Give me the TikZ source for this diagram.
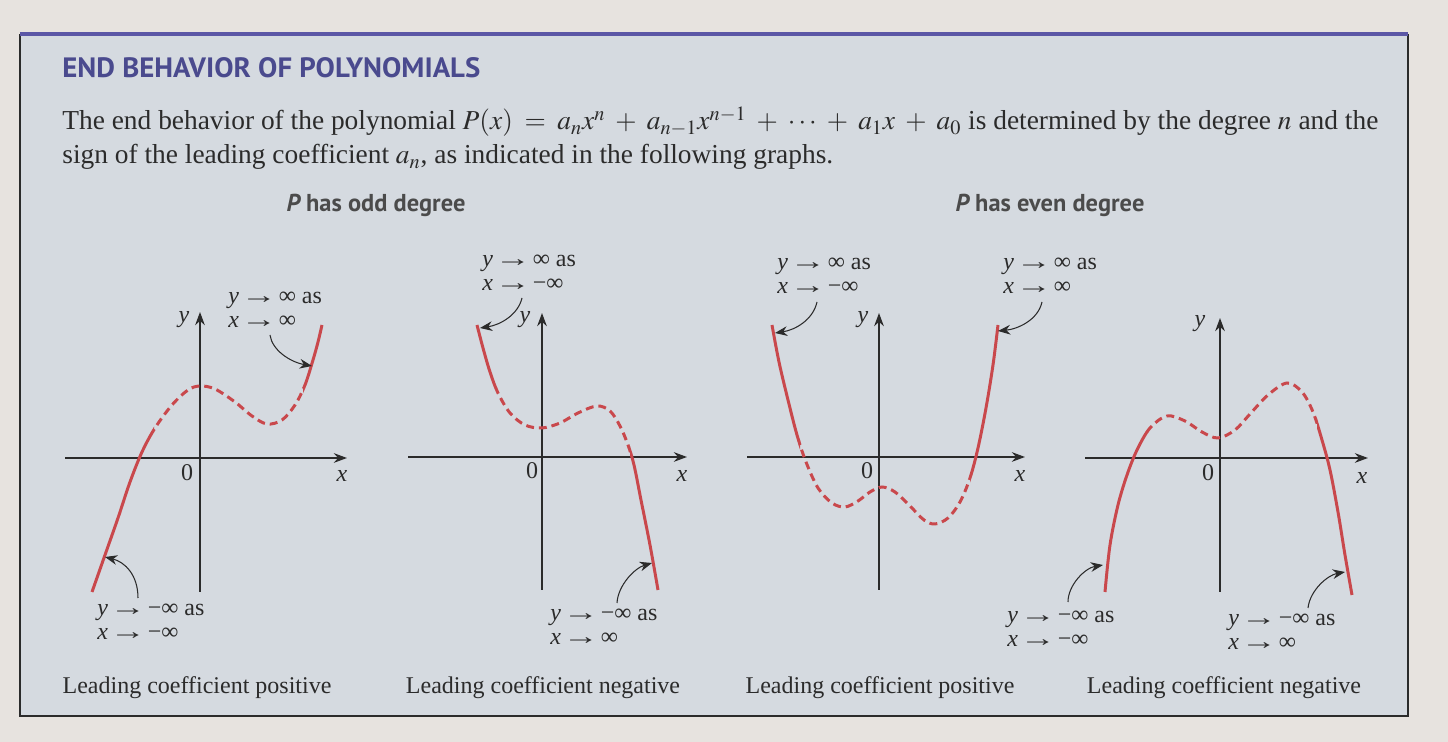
\documentclass[tikz,border=0pt]{standalone}
\usepackage{mathptmx}
\usepackage[no-math]{fontspec}
\usepackage{graphicx}
\setmainfont{Liberation Serif}
\newfontfamily\hdfont{PT Sans}
\usetikzlibrary{arrows.meta}
\definecolor{paper}{HTML}{E7E3DF}
\definecolor{boxbg}{HTML}{D5DAE0}
\definecolor{barblue}{HTML}{5B57A6}
\definecolor{headpurple}{HTML}{4A4A8E}
\definecolor{ink}{HTML}{2B2B2B}
\definecolor{curvered}{HTML}{C9484C}
\newcommand\twoline[2]{\begin{tabular}[t]{@{}l@{}}#1\\#2\end{tabular}}
\newcommand\vy{\textit{y}}
\newcommand\vx{\textit{x}}
\newcommand\arr{\hspace{0.08em}\scalebox{1.5}[1]{→}\hspace{0.08em}}
\tikzset{
  axisline/.style={ink, line width=0.9pt, -{Stealth[length=7.5pt,width=5.5pt]}},
  curvesolid/.style={curvered, line width=1.7pt},
  curvedash/.style={curvered, line width=1.7pt, dash pattern=on 4.5pt off 2.8pt},
  callout/.style={ink, line width=0.6pt, -{Stealth[length=7pt,width=5.5pt]}},
  lab/.style={font=\fontsize{13.66}{13.4}\selectfont, inner sep=0pt, anchor=base west, text=ink},
  capt/.style={font=\fontsize{13.66}{16}\selectfont, inner sep=0pt, anchor=base, text=ink},
  axlab/.style={font=\fontsize{13.66}{16}\selectfont, inner sep=0pt, anchor=center, text=ink},
  body/.style={font=\fontsize{15.6}{19}\selectfont, inner sep=0pt, anchor=base west, text=ink},
  subhead/.style={font=\hdfont\bfseries\fontsize{13.9}{16}\selectfont, inner sep=0pt, anchor=base, text=ink!85},
}
\def\curveA{plot[smooth,tension=0.55] coordinates {(92,592) (105,555) (118,518) (130,482) (142,452) (155,428) (172,405) (188,390) (200,386) (215,389) (235,402) (252,416) (267,424) (282,420) (295,405) (305,385) (313,360) (318,342) (322,325)}}
\def\curveB{plot[smooth,tension=0.55] coordinates {(477,325) (483,348) (490,372) (498,393) (510,413) (525,425) (542,428) (560,423) (578,413) (597,406) (610,411) (620,426) (628,445) (634,465) (641,500) (650,545) (658,590)}}
\def\curveC{plot[smooth,tension=0.55] coordinates {(772,325) (779,362) (788,400) (797,435) (806,462) (818,488) (832,503) (845,507) (858,501) (870,492) (882,487) (895,492) (910,506) (924,520) (935,524) (948,518) (960,502) (970,478) (978,448) (986,408) (993,365) (998,325)}}
\def\curveD{plot[smooth,tension=0.55] coordinates {(1105,592) (1110,545) (1118,505) (1127,475) (1137,450) (1150,428) (1167,416) (1185,421) (1202,432) (1218,438) (1235,430) (1250,414) (1268,395) (1287,383) (1302,392) (1313,412) (1322,440) (1330,470) (1338,512) (1345,555) (1352,595)}}
\begin{document}
\begin{tikzpicture}[x=0.02cm, y=-0.02cm]
\useasboundingbox (0,0) rectangle (1448,742);
\fill[paper] (0,0) rectangle (1448,742);
% box
\fill[boxbg] (20,34) rectangle (1408,716);
\draw[ink, line width=0.9pt] (20,34) -- (20,716) -- (1408,716) -- (1408,34);
\draw[barblue, line width=2.4pt] (20,34) -- (1408,34);
% heading
\node[inner sep=0pt, anchor=base west, text=headpurple] (title) at (62,78)
  {\resizebox{8.36cm}{0.4cm}{\hdfont\bfseries END BEHAVIOR OF POLYNOMIALS}};
\node[body] (line1) at (62,130) {\medmuskip=6.6mu\thickmuskip=7.6mu The end behavior of the polynomial $P(x) = a_nx^n + a_{n-1}x^{n-1} + \cdots + a_1x + a_0$ is determined by the degree $n$ and the};
\node[body] (line2) at (62,164) {sign of the leading coefficient $a_n$, as indicated in the following graphs.};
\node[subhead] (odd) at (376,212) {{\itshape P} has odd degree};
\node[subhead] (even) at (1050,212) {{\itshape P} has even degree};

% ---------- Graph 1 ----------
\draw[axisline] (65,458) -- (347,458);
\draw[axisline] (200,592) -- (200,312);
\node[axlab] (y1) at (184,320) {\vy};
\node[axlab] (o1) at (187,473) {0};
\node[axlab] (x1) at (342,476) {\vx};
\begin{scope}\clip (0,0) rectangle (154,742); \draw[curvesolid] \curveA; \end{scope}
\begin{scope}\clip (154,0) rectangle (303,742); \draw[curvedash] \curveA; \end{scope}
\begin{scope}\clip (303,0) rectangle (400,742); \draw[curvesolid] \curveA; \end{scope}
\node[lab] (g1t) at (228,304) {\twoline{\vy\arr∞ as}{\vx\arr∞}};
\coordinate (g1ts) at (270,335);
\coordinate (g1tarr) at (312,366);
\draw[callout] (g1ts) .. controls (272,350) and (290,362) .. (g1tarr);
\node[lab] (g1b) at (97,616) {\twoline{\vy\arr−∞ as}{\vx\arr−∞}};
\coordinate (g1bs) at (138,598);
\coordinate (g1barr) at (105,557);
\draw[callout] (g1bs) .. controls (138,575) and (125,562) .. (g1barr);
\node[capt] (c1) at (197,694) {Leading coefficient positive};

% ---------- Graph 2 ----------
\draw[axisline] (408,457) -- (687,457);
\draw[axisline] (542,590) -- (542,313);
\node[axlab] (y2) at (525,320) {\vy};
\node[axlab] (o2) at (532,471) {0};
\node[axlab] (x2) at (682,476) {\vx};
\begin{scope}\clip (0,0) rectangle (497,742); \draw[curvesolid] \curveB; \end{scope}
\begin{scope}\clip (497,0) rectangle (630,742); \draw[curvedash] \curveB; \end{scope}
\begin{scope}\clip (630,0) rectangle (720,742); \draw[curvesolid] \curveB; \end{scope}
\node[lab] (g2t) at (482,267) {\twoline{\vy\arr∞ as}{\vx\arr−∞}};
\coordinate (g2ts) at (522,298);
\coordinate (g2tarr) at (480,328);
\draw[callout] (g2ts) .. controls (518,315) and (500,325) .. (g2tarr);
\node[lab] (g2b) at (550,621) {\twoline{\vy\arr−∞ as}{\vx\arr∞}};
\coordinate (g2bs) at (617,603);
\coordinate (g2barr) at (652,563);
\draw[callout] (g2bs) .. controls (618,585) and (635,568) .. (g2barr);
\node[capt] (c2) at (543,694) {Leading coefficient negative};

% ---------- Graph 3 ----------
\draw[axisline] (747,457) -- (1025,457);
\draw[axisline] (879,590) -- (879,313);
\node[axlab] (y3) at (863,320) {\vy};
\node[axlab] (o3) at (867,471) {0};
\node[axlab] (x3) at (1020,476) {\vx};
\begin{scope}\clip (700,0) rectangle (800,742); \draw[curvesolid] \curveC; \end{scope}
\begin{scope}\clip (800,0) rectangle (970,742); \draw[curvedash] \curveC; \end{scope}
\begin{scope}\clip (970,0) rectangle (1050,742); \draw[curvesolid] \curveC; \end{scope}
\node[lab] (g3l) at (777,270) {\twoline{\vy\arr∞ as}{\vx\arr−∞}};
\coordinate (g3ls) at (817,302);
\coordinate (g3larr) at (775,333);
\draw[callout] (g3ls) .. controls (813,320) and (795,330) .. (g3larr);
\node[lab] (g3r) at (1003,270) {\twoline{\vy\arr∞ as}{\vx\arr∞}};
\coordinate (g3rs) at (1042,302);
\coordinate (g3rarr) at (998,331);
\draw[callout] (g3rs) .. controls (1038,320) and (1018,329) .. (g3rarr);
\node[capt] (c3) at (880,694) {Leading coefficient positive};

% ---------- Graph 4 ----------
\draw[axisline] (1085,458) -- (1368,458);
\draw[axisline] (1220,592) -- (1220,318);
\node[axlab] (y4) at (1200,324) {\vy};
\node[axlab] (o4) at (1208,473) {0};
\node[axlab] (x4) at (1362,478) {\vx};
\begin{scope}\clip (1050,0) rectangle (1148,742); \draw[curvesolid] \curveD; \end{scope}
\begin{scope}\clip (1148,0) rectangle (1317,742); \draw[curvedash] \curveD; \end{scope}
\begin{scope}\clip (1317,0) rectangle (1400,742); \draw[curvesolid] \curveD; \end{scope}
\node[lab] (g4l) at (1007,623) {\twoline{\vy\arr−∞ as}{\vx\arr−∞}};
\coordinate (g4ls) at (1068,602);
\coordinate (g4larr) at (1103,565);
\draw[callout] (g4ls) .. controls (1068,585) and (1085,568) .. (g4larr);
\node[lab] (g4r) at (1228,626) {\twoline{\vy\arr−∞ as}{\vx\arr∞}};
\coordinate (g4rs) at (1308,608);
\coordinate (g4rarr) at (1345,572);
\draw[callout] (g4rs) .. controls (1310,590) and (1328,575) .. (g4rarr);
\node[capt] (c4) at (1224,694) {Leading coefficient negative};
\end{tikzpicture}
\end{document}
